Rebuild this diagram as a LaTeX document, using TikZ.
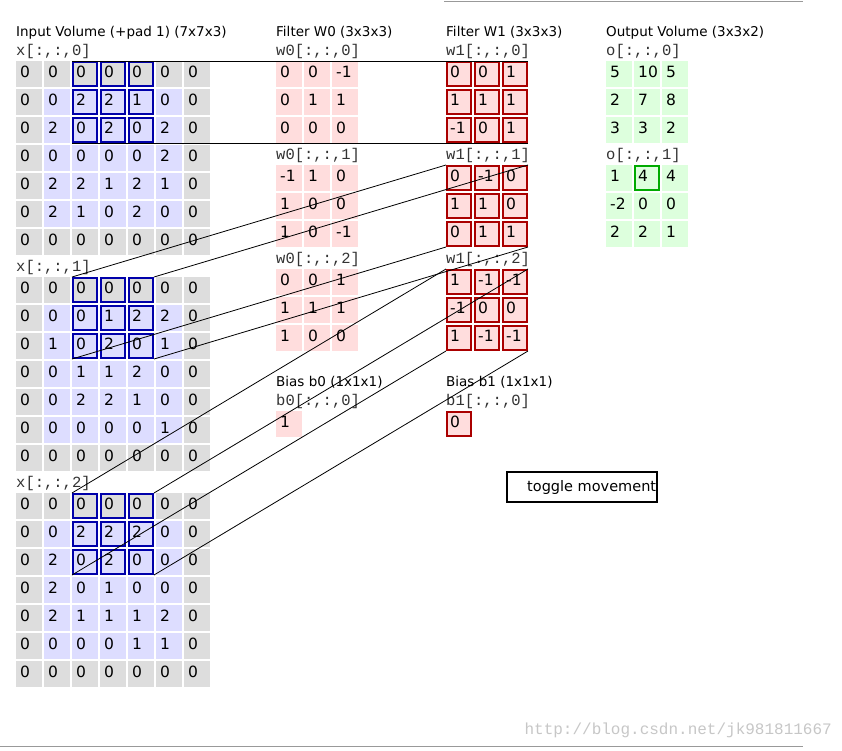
\documentclass[tikz,border=0pt]{standalone}
\usepackage{fontspec}
\setmainfont{DejaVu Sans}
\newfontfamily\monof{Liberation Mono}
\begin{document}
\begin{tikzpicture}[x=1pt,y=-1pt,
  cell/.style={minimum width=26pt,minimum height=26pt,inner sep=0pt,anchor=north west,draw=none},
  num/.style={font=\fontsize{15.5}{16}\selectfont,anchor=west,inner sep=0pt},
  ttl/.style={font=\fontsize{13.5}{14}\selectfont,anchor=base west,inner sep=0pt},
  lbl/.style={font=\monof\fontsize{15.5}{16}\selectfont,anchor=west,inner sep=0pt,text=black!80},
  conn/.style={black,line width=0.8pt}]
\definecolor{cgrey}{HTML}{DDDDDD}
\definecolor{cblue}{HTML}{DDDDFF}
\definecolor{cred}{HTML}{FFDDDD}
\definecolor{cgreen}{HTML}{DDFFDD}
\definecolor{bblue}{HTML}{0000AA}
\definecolor{bred}{HTML}{AA0000}
\definecolor{bgreen}{HTML}{00AA00}
\useasboundingbox (0,0) rectangle (842,750);
\fill[white] (0,0) rectangle (842,750);
% input volume
\foreach \data [count=\k from 0] in {
 {{0,0,0,0,0,0,0},{0,0,2,2,1,0,0},{0,2,0,2,0,2,0},{0,0,0,0,0,2,0},{0,2,2,1,2,1,0},{0,2,1,0,2,0,0},{0,0,0,0,0,0,0}},
 {{0,0,0,0,0,0,0},{0,0,0,1,2,2,0},{0,1,0,2,0,1,0},{0,0,1,1,2,0,0},{0,0,2,2,1,0,0},{0,0,0,0,0,1,0},{0,0,0,0,0,0,0}},
 {{0,0,0,0,0,0,0},{0,0,2,2,2,0,0},{0,2,0,2,0,0,0},{0,2,0,1,0,0,0},{0,2,1,1,1,2,0},{0,0,0,0,1,1,0},{0,0,0,0,0,0,0}}}{
  \pgfmathsetmacro\yo{61+216*\k}
  \node[lbl] (xl\k) at (16,\yo-10) {x[:,:,\k]};
  \foreach \row [count=\r from 0] in \data {
    \foreach \v [count=\c from 0] in \row {
      \pgfmathtruncatemacro\pad{(\r==0)||(\r==6)||(\c==0)||(\c==6)}
      \ifnum\pad=1 \def\fc{cgrey}\else\def\fc{cblue}\fi
      \node[cell,fill=\fc] (x\k-\r-\c) at (16+28*\c,\yo+28*\r) {};
      \node[num] at (20+28*\c,\yo+28*\r+11) {\v};
    }
  }
  \foreach \r in {0,1,2}{\foreach \c in {2,3,4}{
    \draw[bblue,line width=1.6pt] (17+28*\c,\yo+1+28*\r) rectangle (41+28*\c,\yo+25+28*\r);}}
  \coordinate (wtl\k) at (72,\yo);
  \coordinate (wtr\k) at (154,\yo);
  \coordinate (wbl\k) at (72,\yo+82);
  \coordinate (wbr\k) at (154,\yo+82);
}
% filters
\foreach \xo/\nm/\data/\bd in {
 276/w0/{{{0,0,-1},{0,1,1},{0,0,0}},{{-1,1,0},{1,0,0},{1,0,-1}},{{0,0,1},{1,1,1},{1,0,0}}}/0,
 446/w1/{{{0,0,1},{1,1,1},{-1,0,1}},{{0,-1,0},{1,1,0},{0,1,1}},{{1,-1,-1},{-1,0,0},{1,-1,-1}}}/1}{
  \foreach \ch [count=\k from 0] in \data {
    \pgfmathsetmacro\yo{61+104*\k}
    \node[lbl] (\nm l\k) at (\xo,\yo-10) {\nm[:,:,\k]};
    \foreach \row [count=\r from 0] in \ch {
      \foreach \v [count=\c from 0] in \row {
        \node[cell,fill=cred] (\nm-\k-\r-\c) at (\xo+28*\c,\yo+28*\r) {};
        \node[num] at (\xo+4+28*\c,\yo+28*\r+11) {\v};
        \ifnum\bd=1 \draw[bred,line width=1.6pt] (\xo+1+28*\c,\yo+1+28*\r) rectangle (\xo+25+28*\c,\yo+25+28*\r);\fi
      }
    }
    \coordinate (\nm tl\k) at (\xo,\yo);
    \coordinate (\nm tr\k) at (\xo+82,\yo);
    \coordinate (\nm bl\k) at (\xo,\yo+82);
    \coordinate (\nm br\k) at (\xo+82,\yo+82);
  }
}
% output
\foreach \ch [count=\k from 0] in {{{5,10,5},{2,7,8},{3,3,2}},{{1,4,4},{-2,0,0},{2,2,1}}}{
  \pgfmathsetmacro\yo{61+104*\k}
  \node[lbl] (ol\k) at (606,\yo-10) {o[:,:,\k]};
  \foreach \row [count=\r from 0] in \ch {
    \foreach \v [count=\c from 0] in \row {
      \node[cell,fill=cgreen] (o-\k-\r-\c) at (606+28*\c,\yo+28*\r) {};
      \node[num] at (610+28*\c,\yo+28*\r+11) {\v};
    }
  }
}
\draw[bgreen,line width=1.6pt] (635,166) rectangle (659,190);
% titles
\node[ttl] (t1) at (16,36) {Input Volume (+pad 1) (7x7x3)};
\node[ttl] (t2) at (276,36) {Filter W0 (3x3x3)};
\node[ttl] (t3) at (446,36) {Filter W1 (3x3x3)};
\node[ttl] (t4) at (606,36) {Output Volume (3x3x2)};
% biases
\node[ttl] (bt0) at (276,386) {Bias b0 (1x1x1)};
\node[ttl] (bt1) at (446,386) {Bias b1 (1x1x1)};
\node[lbl] (bl0) at (276,401) {b0[:,:,0]};
\node[lbl] (bl1) at (446,401) {b1[:,:,0]};
\node[cell,fill=cred] (b0) at (276,411) {};
\node[num] at (280,422) {1};
\node[cell,fill=cred] (b1) at (446,411) {};
\draw[bred,line width=1.6pt] (447,412) rectangle (471,436);
\node[num] at (450,422) {0};
% connectors
\foreach \k in {0,1,2}{
  \draw[conn] (wtl\k) -- (w1tl\k);
  \draw[conn] (wtr\k) -- (w1tr\k);
  \draw[conn] (wbl\k) -- (w1bl\k);
  \draw[conn] (wbr\k) -- (w1br\k);
}
% button
\node[draw=black,line width=1.6pt,minimum width=150pt,minimum height=30pt,inner sep=0pt,anchor=north west] (btn) at (506,471) {};
\node[ttl,font=\fontsize{14.5}{15}\selectfont] (btnt) at (527,491) {toggle movement};
% rules and watermark
\draw[black!40,line width=0.8pt] (444,1) -- (803,1);
\draw[black!40,line width=0.8pt] (0,746) -- (803,746);
\node[font=\monof\fontsize{16}{17}\selectfont,text=black!22,anchor=east,inner sep=0pt] (wm) at (832,730) {http://blog.csdn.net/jk981811667};
\end{tikzpicture}
\end{document}
